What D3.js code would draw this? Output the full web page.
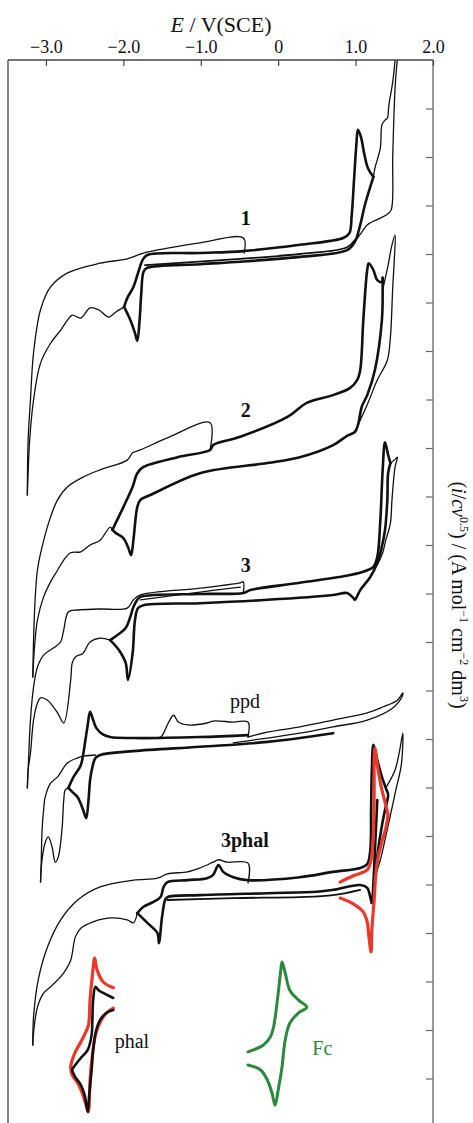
<!DOCTYPE html>
<html><head><meta charset="utf-8">
<script src="https://cdn.jsdelivr.net/npm/d3@7"></script>
<style>
body{margin:0;background:#fff;}
svg{display:block;font-family:"Liberation Serif","Times New Roman",serif;}
</style></head>
<body><svg id="chart" width="473" height="1123"></svg>
<script>
// ---- axis data ----
const xTicks = [-3, -2, -1, 0, 1, 2];
const xTickLabels = ["\u22123.0", "\u22122.0", "\u22121.0", "0", "1.0", "2.0"];
const yTicks = d3.range(1, 22);

// ---- compound 1 ----
const c1Outer = [[-3.24,13.03],[-3.23,14.16],[-3.20,14.99],[-3.16,15.96],[-3.07,16.85],[-2.94,17.32],[-2.72,17.61],[-2.30,17.81],[-1.95,17.90],[-1.74,18.02],[-1.43,18.12],[-1.01,18.23],[-0.45,18.33],[-0.44,18.02]];
const c1Inner = [[-3.24,13.03],[-3.21,14.16],[-3.16,14.99],[-3.07,15.75],[-2.94,16.16],[-2.81,16.43],[-2.72,16.64],[-2.66,16.74],[-2.55,16.68],[-2.43,16.89],[-2.32,16.85],[-2.19,16.70],[-2.10,16.80],[-1.99,16.91]];
const c1Fwd = [[-1.99,16.91],[-1.95,17.09],[-1.87,17.32],[-1.81,17.61],[-1.75,17.88],[-1.69,17.98],[-1.01,18.02],[-0.45,18.06],[0.28,18.19],[0.84,18.33],[0.92,18.43],[0.95,18.80],[0.98,19.53],[1.01,20.25],[1.03,20.56],[1.07,20.41],[1.11,20.08],[1.16,19.77],[1.23,19.59]];
const c1Rev = [[-1.99,16.91],[-1.91,16.64],[-1.85,16.37],[-1.82,16.21],[-1.79,16.64],[-1.77,17.15],[-1.74,17.63],[-1.70,17.71],[-1.01,17.79],[-0.49,17.84],[0.28,17.94],[0.89,18.08],[0.99,18.25],[1.06,18.60],[1.12,19.01],[1.23,19.59]];
const c1Rev2 = [[-1.72,17.77],[-0.49,17.90],[0.28,18.00],[0.89,18.14],[0.99,18.29]];
const c1UpA = [[1.23,19.59],[1.25,19.77],[1.32,20.19],[1.34,20.66],[1.38,20.76],[1.41,20.80],[1.43,21.07],[1.48,21.55],[1.51,22.0]];
const c1UpB = [[0.99,18.25],[1.08,18.45],[1.15,18.60],[1.32,18.74],[1.41,18.82],[1.46,18.91],[1.48,20.04],[1.51,21.42],[1.54,22.04]];

// ---- compound 2 ----
const c2Outer = [[-3.17,9.28],[-3.16,10.04],[-3.14,10.87],[-3.11,11.48],[-3.05,11.96],[-2.94,12.58],[-2.85,12.93],[-2.72,13.20],[-2.52,13.40],[-2.30,13.55],[-1.95,13.75],[-1.88,13.90],[-1.78,13.96],[-1.43,14.21],[-0.88,14.52],[-0.88,13.96]];
const c2Inner = [[-3.17,9.28],[-3.15,9.84],[-3.11,10.45],[-3.03,10.93],[-2.94,11.24],[-2.85,11.48],[-2.77,11.69],[-2.68,11.84],[-2.55,11.86],[-2.43,12.00],[-2.30,12.10],[-2.17,12.37],[-2.14,12.31]];
const c2Fwd = [[-2.14,12.31],[-2.10,12.45],[-2.00,12.78],[-1.88,13.20],[-1.82,13.48],[-1.74,13.61],[-1.30,13.81],[-0.88,13.96],[-0.84,14.06],[-0.49,14.23],[0.12,14.64],[0.37,14.93],[0.71,15.09],[0.93,15.24],[1.02,15.40],[1.06,15.61],[1.10,16.64],[1.15,17.67],[1.17,17.81],[1.23,17.67],[1.28,17.46],[1.34,17.42],[1.35,17.51]];
const c2Rev = [[-2.14,12.31],[-2.10,12.25],[-2.00,12.14],[-1.94,11.96],[-1.90,11.79],[-1.87,12.10],[-1.82,12.78],[-1.78,12.93],[-1.65,13.03],[-1.01,13.48],[-0.14,13.69],[0.28,13.81],[0.71,14.06],[0.89,14.25],[0.99,14.33],[1.03,14.47],[1.08,14.85],[1.15,15.09],[1.25,15.61],[1.34,16.64],[1.35,17.26],[1.35,17.51]];
const c2Spike = [[1.35,17.26],[1.42,17.77],[1.47,18.19],[1.51,18.39],[1.50,17.88],[1.48,17.32],[1.45,16.29],[1.41,15.81],[1.28,15.40],[1.15,14.89],[1.03,14.47]];

// ---- compound 3 ----
const c3Outer = [[-3.24,6.99],[-3.23,7.36],[-3.20,8.39],[-3.16,9.07],[-3.11,9.48],[-3.03,9.73],[-2.90,9.88],[-2.81,10.0],[-2.77,10.25],[-2.71,10.62],[-2.59,10.66],[-2.30,10.68],[-1.95,10.70],[-1.87,10.87],[-1.78,10.97],[-1.01,11.11],[-0.49,11.22],[-0.45,11.24],[-0.45,11.01]];
const c3Inner = [[-3.24,6.99],[-3.23,7.36],[-3.20,7.71],[-3.16,8.39],[-3.11,8.74],[-3.07,8.85],[-2.98,8.80],[-2.85,8.54],[-2.77,8.33],[-2.68,9.22],[-2.66,9.57],[-2.62,9.69],[-2.52,9.77],[-2.43,10.0],[-2.30,10.08],[-2.17,10.04]];
const c3Fwd = [[-2.17,10.04],[-2.08,10.14],[-1.97,10.29],[-1.91,10.52],[-1.87,10.72],[-1.82,10.87],[-1.78,10.93],[-1.01,10.99],[-0.45,11.01],[-0.36,11.07],[0.28,11.22],[0.93,11.38],[1.15,11.48],[1.23,11.55],[1.28,11.75],[1.32,12.52],[1.35,13.55],[1.38,14.12],[1.42,13.86],[1.45,13.69]];
const c3Rev = [[-2.17,10.04],[-2.06,9.84],[-1.97,9.57],[-1.94,9.22],[-1.88,9.77],[-1.85,10.45],[-1.81,10.70],[-1.74,10.76],[-1.01,10.80],[-0.14,10.87],[0.71,10.97],[0.89,11.01],[0.97,10.91],[0.99,10.87],[1.06,11.07],[1.19,11.34],[1.28,11.63],[1.33,11.90],[1.38,12.31],[1.41,12.93],[1.42,13.48],[1.45,13.69]];
const c3Spike = [[1.45,13.69],[1.50,13.75],[1.54,13.81],[1.51,13.61],[1.47,12.93],[1.45,12.45],[1.39,12.10],[1.35,11.84],[1.28,11.59]];
const c3Thin2 = [[-1.78,10.87],[-1.01,11.03],[-0.49,11.13]];

// ---- ppd ----
const ppdOuter = [[-3.07,5.05],[-3.06,5.51],[-3.05,6.12],[-3.03,6.54],[-3.01,6.80],[-2.94,7.09],[-2.85,7.22],[-2.72,7.51],[-2.59,7.61],[-2.50,7.65],[-2.36,7.67]];
const ppdInner = [[-3.07,5.05],[-3.05,5.51],[-3.01,5.86],[-2.97,5.98],[-2.92,5.77],[-2.88,5.46],[-2.84,5.57],[-2.79,6.19],[-2.77,6.74],[-2.75,6.95],[-2.71,6.99]];
const ppdFwd = [[-2.71,6.99],[-2.65,7.20],[-2.55,7.46],[-2.52,7.67],[-2.49,7.98],[-2.46,8.29],[-2.43,8.56],[-2.39,8.39],[-2.35,8.23],[-2.27,8.10],[-2.17,8.04],[-1.87,8.02],[-1.01,8.04],[-0.39,8.08]];
const ppdRev = [[-2.71,6.99],[-2.66,6.91],[-2.59,6.80],[-2.52,6.54],[-2.48,6.37],[-2.45,6.74],[-2.43,7.15],[-2.40,7.42],[-2.36,7.61],[-2.30,7.67],[-1.87,7.75],[-1.01,7.84],[-0.14,7.94],[0.71,8.12]];
const ppdThin = [[-1.87,8.02],[-1.52,8.04],[-1.48,8.12],[-1.42,8.33],[-1.35,8.49],[-1.29,8.35],[-1.17,8.29],[-0.92,8.33],[-0.84,8.37],[-0.58,8.35],[-0.39,8.35],[-0.39,8.04]];
const ppdLoop = [[-0.39,8.04],[-0.14,8.14],[0.28,8.25],[0.71,8.39],[1.15,8.54],[1.35,8.66],[1.54,8.80],[1.61,8.95],[1.60,8.87],[1.48,8.64],[1.15,8.39],[0.71,8.25],[0.28,8.12],[-0.14,8.02],[-0.58,7.92]];

// ---- 3phal ----
const phOuter = [[-3.17,1.69],[-3.16,2.27],[-3.10,3.03],[-2.98,3.71],[-2.81,4.27],[-2.59,4.68],[-2.30,4.95],[-1.87,5.09],[-1.56,5.13],[-1.43,5.22],[-1.17,5.26],[-1.01,5.34],[-0.84,5.46],[-0.77,5.51],[-0.66,5.46],[-0.39,5.44],[-0.39,5.03]];
const phInner = [[-3.17,1.69],[-3.16,1.94],[-3.11,2.47],[-3.03,2.76],[-2.94,2.89],[-2.85,3.03],[-2.77,3.18],[-2.68,3.44],[-2.62,3.92],[-2.55,4.10],[-2.39,4.23],[-2.17,4.31],[-1.95,4.27],[-1.87,4.21],[-1.82,4.41]];
const phFwd = [[-1.82,4.41],[-1.74,4.54],[-1.61,4.64],[-1.52,4.74],[-1.48,4.95],[-1.43,5.05],[-1.17,5.09],[-0.92,5.13],[-0.84,5.20],[-0.77,5.40],[-0.71,5.26],[-0.58,5.15],[-0.40,5.09],[0.28,5.15],[0.71,5.26],[1.06,5.34],[1.15,5.42],[1.19,5.71],[1.20,6.54],[1.21,7.36],[1.23,7.88],[1.28,7.57],[1.34,7.22],[1.39,6.99],[1.42,6.85],[1.38,6.54],[1.33,6.12],[1.29,5.71],[1.26,5.30],[1.24,4.89],[1.21,4.62]];
const phRev = [[-1.82,4.41],[-1.69,4.21],[-1.56,4.00],[-1.54,3.79],[-1.50,4.33],[-1.46,4.68],[-1.43,4.74],[-1.01,4.78],[-0.14,4.82],[0.50,4.85],[0.71,4.89],[1.06,4.99],[1.15,4.93],[1.19,4.74],[1.21,4.62],[1.23,5.03],[1.25,5.71],[1.28,6.74]];
const phRev2 = [[-1.43,4.68],[-0.58,4.72],[0.28,4.74],[0.71,4.78],[1.06,4.89]];
const phSpike = [[1.39,6.99],[1.51,7.36],[1.57,7.77],[1.61,8.12],[1.59,7.46],[1.52,6.95],[1.45,6.43],[1.38,5.92],[1.32,5.51],[1.26,5.20]];
const phRedUpper = [[0.80,5.05],[0.97,5.18],[1.15,5.30],[1.20,5.51],[1.23,6.06],[1.24,6.95],[1.24,7.57],[1.25,7.81],[1.29,7.36],[1.34,6.95],[1.39,6.64],[1.42,6.43]];
const phRedLower = [[1.42,6.43],[1.39,6.16],[1.34,5.88],[1.29,5.55],[1.26,5.20],[1.24,4.68],[1.21,4.06],[1.20,3.61],[1.17,3.96],[1.15,4.23],[1.10,4.43],[0.97,4.60],[0.80,4.72]];

// ---- phal and Fc references ----
const phalRed = [[-2.13,2.87],[-2.26,2.99],[-2.34,3.24],[-2.37,3.48],[-2.40,3.13],[-2.43,2.62],[-2.45,2.10],[-2.49,1.94],[-2.55,1.75],[-2.62,1.55],[-2.66,1.38],[-2.68,1.24],[-2.66,1.07],[-2.59,0.91],[-2.53,0.70],[-2.48,0.45],[-2.45,0.31],[-2.44,0.56],[-2.43,0.97],[-2.40,1.48],[-2.36,1.90],[-2.30,2.16],[-2.22,2.35],[-2.13,2.45]];
const phalBlack = [[-2.13,2.66],[-2.23,2.74],[-2.32,2.82],[-2.36,2.89],[-2.39,2.62],[-2.40,2.21],[-2.41,1.90],[-2.46,1.59],[-2.55,1.42],[-2.63,1.26],[-2.66,1.18],[-2.62,1.03],[-2.55,0.87],[-2.50,0.66],[-2.46,0.31],[-2.44,0.66],[-2.41,1.18],[-2.39,1.59],[-2.35,2.00],[-2.30,2.21],[-2.22,2.35],[-2.13,2.41]];
const fcGreen = [[-0.39,1.55],[-0.19,1.69],[-0.10,1.86],[-0.06,2.06],[-0.01,2.62],[0.03,3.18],[0.05,3.40],[0.09,3.18],[0.15,2.82],[0.26,2.62],[0.37,2.47],[0.26,2.35],[0.15,2.14],[0.09,1.79],[0.05,1.24],[0.00,0.76],[-0.04,0.45],[-0.08,0.70],[-0.14,0.97],[-0.23,1.18],[-0.39,1.28]];

// ---- labels (E, i at text baseline) ----
const curveLabels = [
  {text: "1", E: -0.42, i: 18.60, bold: true, color: "#111"},
  {text: "2", E: -0.42, i: 14.64, bold: true, color: "#111"},
  {text: "3", E: -0.42, i: 11.44, bold: true, color: "#111"},
  {text: "ppd", E: -0.43, i: 8.64, bold: false, color: "#111"},
  {text: "3phal", E: -0.43, i: 5.77, bold: true, color: "#111"},
  {text: "phal", E: -1.89, i: 1.63, bold: false, color: "#111"},
  {text: "Fc", E: 0.57, i: 1.48, bold: false, color: "#2a8a3a"}
];

const BLACK = "#111", RED = "#e8392b", GREEN = "#2a8a3a";
const TH = 2.6, TN = 1.3;
const series = [
  [c1Outer,TN,BLACK],[c1Inner,TN,BLACK],[c1UpA,TN,BLACK],[c1UpB,TN,BLACK],
  [c1Fwd,TH,BLACK],[c1Rev,TH,BLACK],[c1Rev2,TH-0.8,BLACK],
  [c2Outer,TN,BLACK],[c2Inner,TN,BLACK],[c2Spike,TN,BLACK],[c2Fwd,TH,BLACK],[c2Rev,TH,BLACK],
  [c3Outer,TN,BLACK],[c3Inner,TN,BLACK],[c3Spike,TN,BLACK],[c3Thin2,TN,BLACK],[c3Fwd,TH,BLACK],[c3Rev,TH,BLACK],
  [ppdOuter,TN,BLACK],[ppdInner,TN,BLACK],[ppdThin,TN,BLACK],[ppdLoop,TN,BLACK],[ppdFwd,TH,BLACK],[ppdRev,TH,BLACK],
  [phOuter,TN,BLACK],[phInner,TN,BLACK],[phSpike,TN,BLACK],[phFwd,TH,BLACK],[phRev,TH,BLACK],[phRev2,TH-0.8,BLACK],
  [phRedUpper,TH+0.6,RED],[phRedLower,TH+0.6,RED],
  [phalRed,TH+0.6,RED],[phalBlack,TH,BLACK],[fcGreen,TH+0.4,GREEN]
];

// ---- layout ----
const L = 8, R = 433, T = 60, B = 1127;
const x = d3.scaleLinear().domain([-3.49, 2.0]).range([L, R]);
const y = d3.scaleLinear().domain([0, 22]).range([B, T]);

const svg = d3.select("#chart");
svg.append("defs").append("clipPath").attr("id","clip")
  .append("rect").attr("x",L).attr("y",T).attr("width",R-L).attr("height",B-T);

const line = d3.line().x(d=>x(d[0])).y(d=>y(d[1])).curve(d3.curveCatmullRom.alpha(0.5));
const g = svg.append("g").attr("clip-path","url(#clip)");
series.forEach(([data,w,c])=>{
  g.append("path").attr("d",line(data)).attr("fill","none")
   .attr("stroke",c).attr("stroke-width",w).attr("stroke-linejoin","round").attr("stroke-linecap","round");
});

// frame
const frame = svg.append("g").attr("stroke","#444").attr("stroke-width",1.3).attr("fill","none");
frame.append("line").attr("x1",L).attr("x2",L).attr("y1",T).attr("y2",B);
frame.append("line").attr("x1",L).attr("x2",R).attr("y1",T).attr("y2",T);
frame.append("line").attr("x1",R).attr("x2",R).attr("y1",T).attr("y2",B).attr("stroke","#666");

// top axis
const xAxis = d3.axisTop(x).tickValues(xTicks).tickSizeInner(-6).tickSizeOuter(0).tickPadding(7)
  .tickFormat((d,k)=>xTickLabels[k]);
const gx = svg.append("g").attr("transform",`translate(0,${T})`).call(xAxis);
gx.attr("font-family","Liberation Serif").attr("font-size",18);
gx.select(".domain").remove();
gx.selectAll("line").attr("stroke","#444").attr("stroke-width",1.2);
gx.selectAll("text").attr("fill","#111");

// right axis
const yAxis = d3.axisRight(y).tickValues(yTicks).tickSizeInner(-7).tickSizeOuter(0).tickFormat("");
const gy = svg.append("g").attr("transform",`translate(${R},0)`).call(yAxis);
gy.select(".domain").remove();
gy.selectAll("line").attr("stroke","#666").attr("stroke-width",1.2);

// titles
const xt = svg.append("text").attr("x",221).attr("y",32).attr("text-anchor","middle")
  .attr("font-size",22).attr("fill","#111");
xt.append("tspan").attr("font-style","italic").text("E");
xt.append("tspan").text(" / V(SCE)");

const yt = svg.append("text").attr("transform",`translate(452,595) rotate(90)`)
  .attr("text-anchor","middle").attr("font-size",20).attr("fill","#111");
yt.append("tspan").text("(");
yt.append("tspan").attr("font-style","italic").text("i");
yt.append("tspan").text("/");
yt.append("tspan").attr("font-style","italic").text("cv");
yt.append("tspan").attr("dy",-8).attr("font-size",12).text("0.5");
yt.append("tspan").attr("dy",8).text(") / (A mol");
yt.append("tspan").attr("dy",-8).attr("font-size",12).text("\u22121");
yt.append("tspan").attr("dy",8).text(" cm");
yt.append("tspan").attr("dy",-8).attr("font-size",12).text("\u22122");
yt.append("tspan").attr("dy",8).text(" dm");
yt.append("tspan").attr("dy",-8).attr("font-size",12).text("3");
yt.append("tspan").attr("dy",8).text(")");

// curve labels
curveLabels.forEach(l=>{
  svg.append("text").attr("x",x(l.E)).attr("y",y(l.i)).attr("text-anchor","middle")
    .attr("font-size",20).attr("font-weight",l.bold?"bold":"normal").attr("fill",l.color).text(l.text);
});
</script></body></html>
